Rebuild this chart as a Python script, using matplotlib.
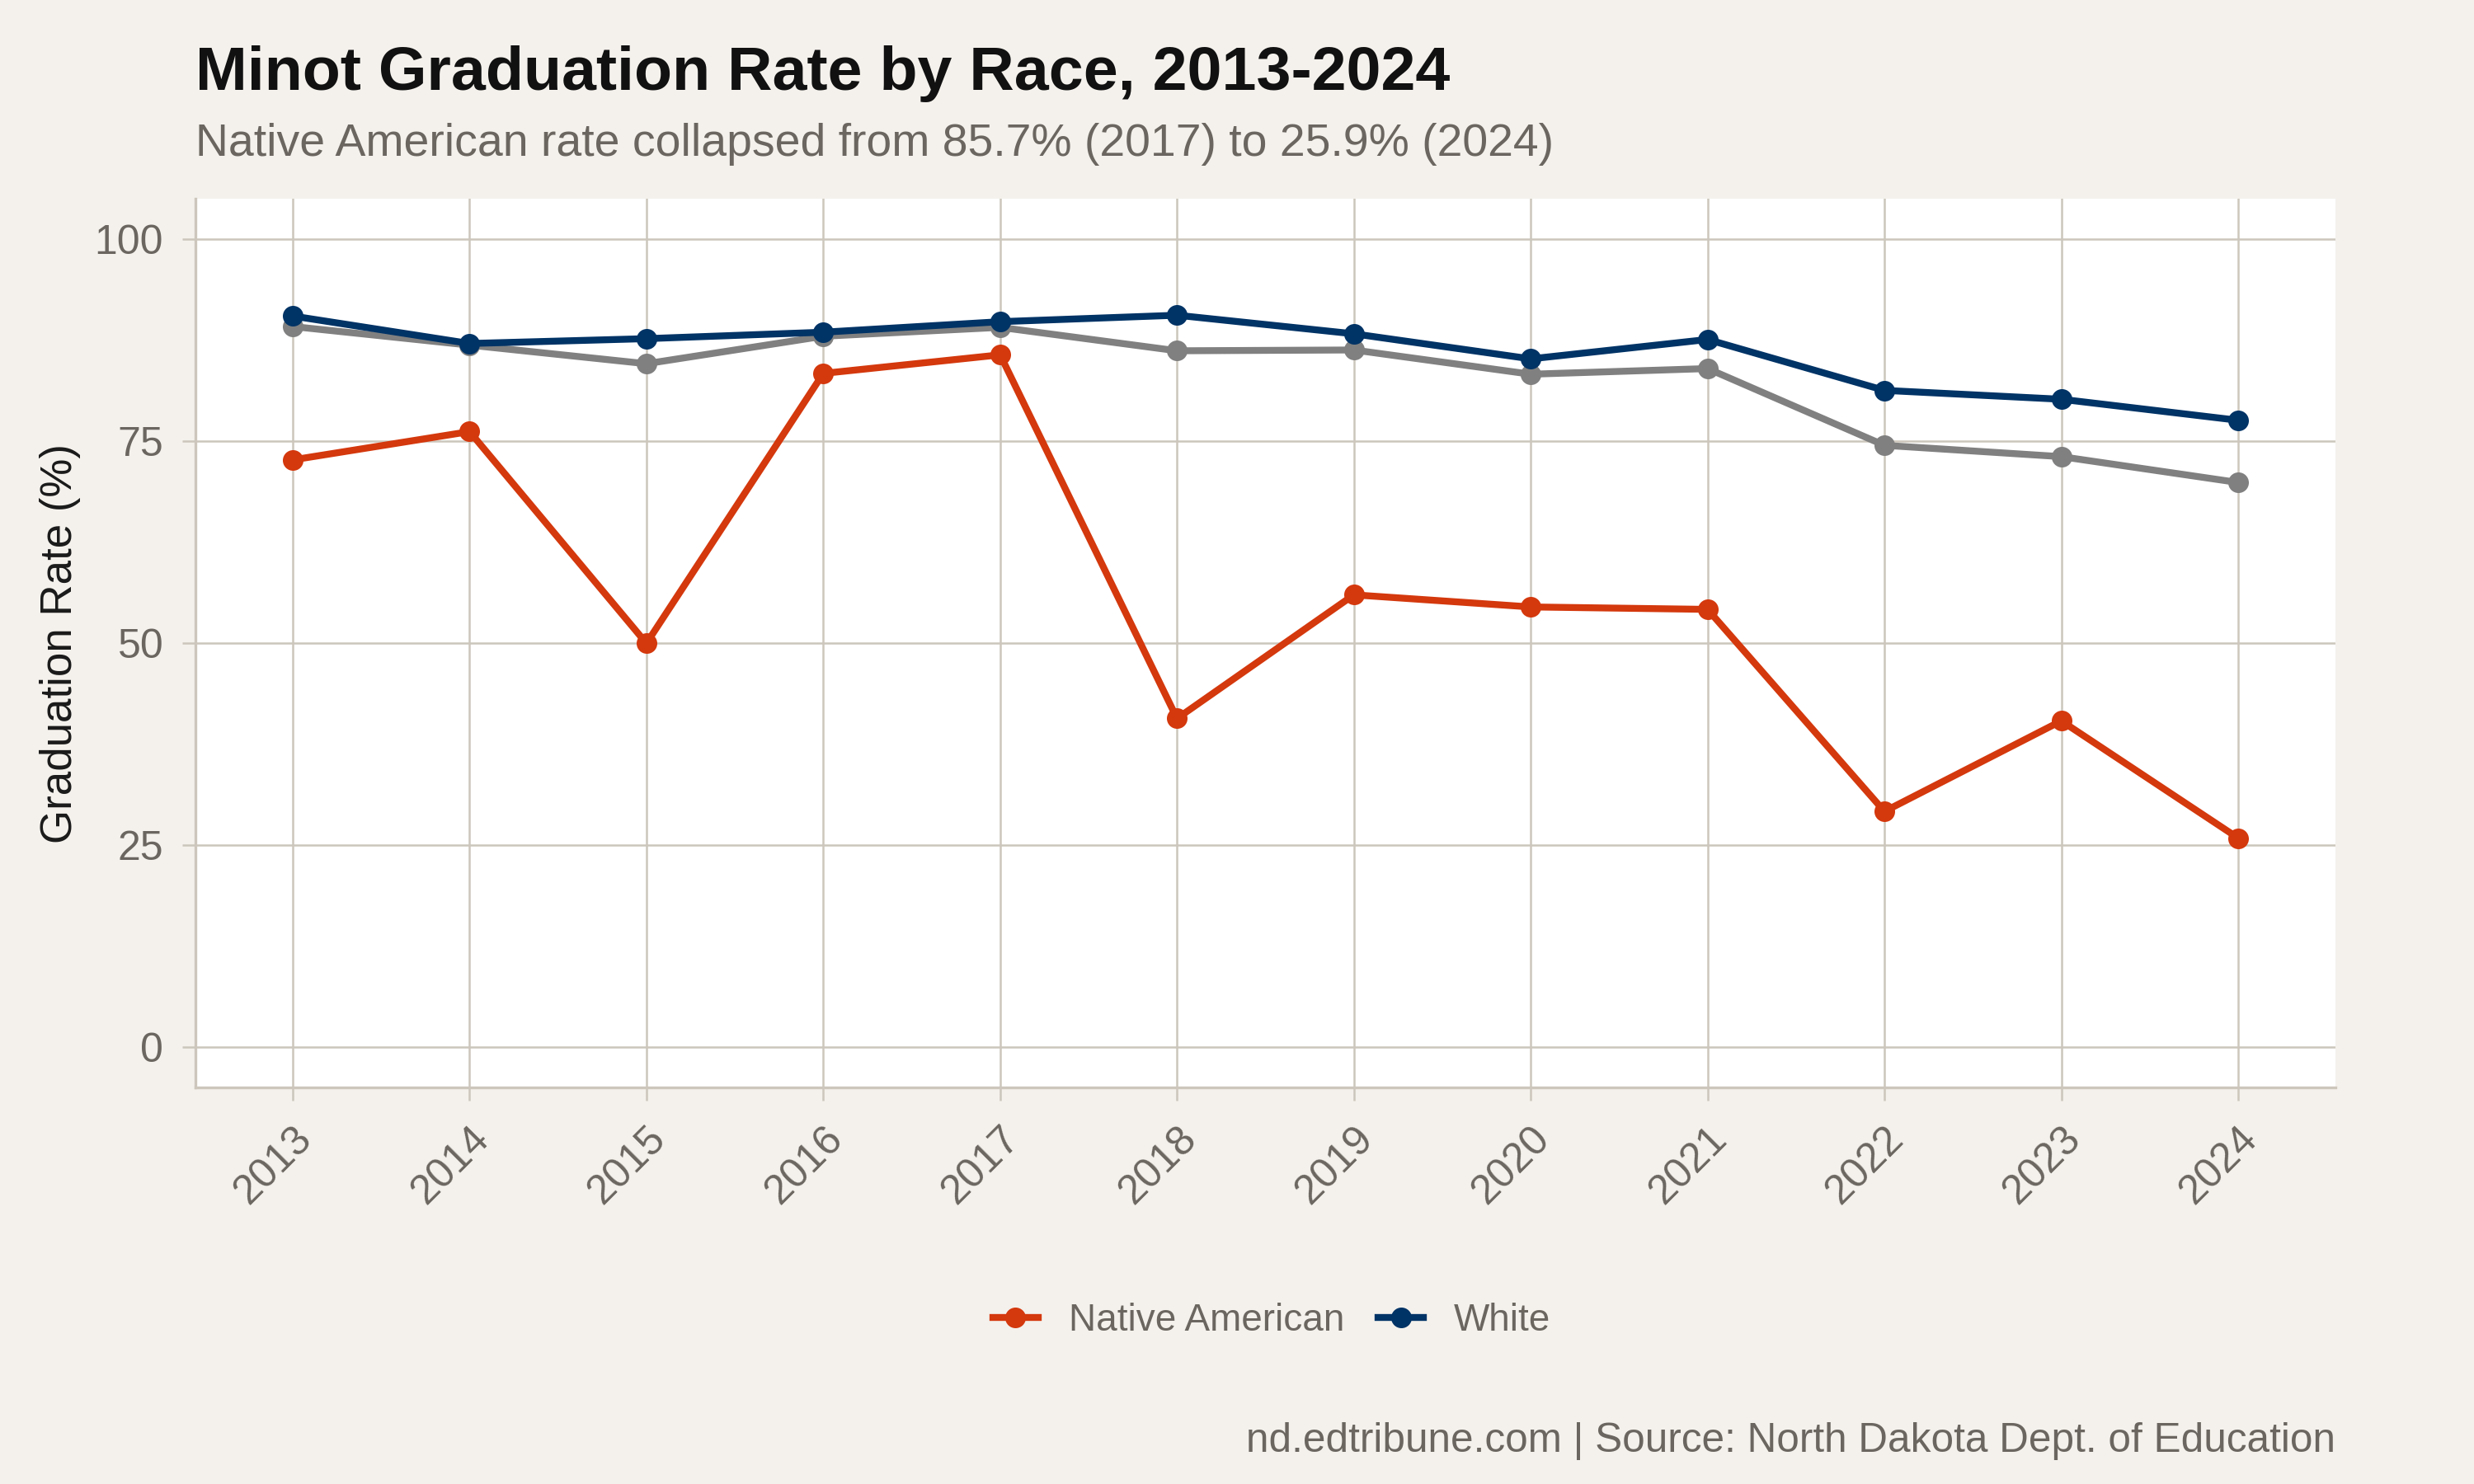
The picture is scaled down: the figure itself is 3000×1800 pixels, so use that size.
import matplotlib.pyplot as plt

# graduation rates
years = [2013, 2014, 2015, 2016, 2017, 2018, 2019, 2020, 2021, 2022, 2023, 2024]
native = [72.7, 76.2, 50.0, 83.4, 85.7, 40.7, 56.0, 54.5, 54.2, 29.2, 40.4, 25.9]
white = [90.5, 87.1, 87.7, 88.5, 89.8, 90.6, 88.3, 85.2, 87.6, 81.3, 80.2, 77.6]
overall = [89.2, 86.9, 84.6, 88.0, 89.1, 86.2, 86.3, 83.3, 84.0, 74.5, 73.1, 69.9]
yticks = [0, 25, 50, 75, 100]

plt.rcParams['font.family'] = ['Liberation Sans', 'DejaVu Sans']

bg = '#F4F1EC'
grid = '#CCC6BC'
txt = '#6B6660'

fig = plt.figure(figsize=(10, 6), dpi=300, facecolor=bg)
ax = fig.add_axes([0.079, 0.267, 0.865, 0.599])
ax.set_facecolor('white')

ax.plot(years, overall, color='#808080', lw=2.0, marker='o', ms=5, zorder=3)
ax.plot(years, native, color='#D4380D', lw=2.0, marker='o', ms=5, zorder=4,
        label='Native American')
ax.plot(years, white, color='#003366', lw=2.0, marker='o', ms=5, zorder=5,
        label='White')

ax.set_xlim(2012.45, 2024.55)
ax.set_ylim(-5, 105)
ax.set_xticks(years)
ax.set_xticklabels([str(y) for y in years], rotation=45, ha='right',
                   rotation_mode='anchor')
ax.set_yticks(yticks)
ax.grid(True, color=grid, lw=0.6)
ax.set_axisbelow(True)
for s in ['top', 'right']:
    ax.spines[s].set_visible(False)
for s in ['left', 'bottom']:
    ax.spines[s].set_color(grid)
    ax.spines[s].set_linewidth(0.8)
ax.tick_params(colors=grid, labelcolor=txt, labelsize=12, length=3.8,
               width=0.6, pad=5.5)
ax.set_ylabel('Graduation Rate (%)', fontsize=12.7, color='#1A1A1A', labelpad=4)

fig.text(0.079, 0.95, 'Minot Graduation Rate by Race, 2013-2024', fontsize=18.1,
         fontweight='bold', color='#111111', va='center')
fig.text(0.079, 0.903, 'Native American rate collapsed from 85.7% (2017) to 25.9% (2024)',
         fontsize=13.3, color=txt, va='center')
fig.text(0.944, 0.029, 'nd.edtribune.com | Source: North Dakota Dept. of Education',
         fontsize=11.9, color=txt, ha='right', va='center')

fig.legend(loc='center', bbox_to_anchor=(0.514, 0.11), ncol=2, frameon=False,
           fontsize=11, labelcolor=txt, handlelength=1.2, handletextpad=0.8,
           columnspacing=0.9)

fig.savefig('out.png', dpi=300, facecolor=bg)
